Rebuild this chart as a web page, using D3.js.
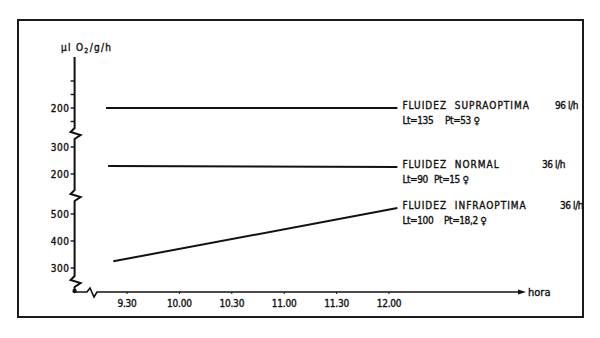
<!DOCTYPE html>
<html>
<head>
<meta charset="utf-8">
<script src="https://cdn.jsdelivr.net/npm/d3@7"></script>
<style>
  body { margin: 0; background: #fff; }
  text { font-family: "DejaVu Sans Condensed", "Liberation Sans Narrow", sans-serif; fill: #111; stroke: #111; stroke-width: 0.35px; }
</style>
</head>
<body>
<script>
// ---- data ----
const series = ["supra", "normal", "infra"];
const startHour = [9.3, 9.32, 9.37];
const endHour = [12.08, 12.08, 12.08];
const startValue = [200, 230, 325];
const endValue = [200, 226, 522];
const titles = ["FLUIDEZ  SUPRAOPTIMA", "FLUIDEZ  NORMAL", "FLUIDEZ  INFRAOPTIMA"];
const flows = ["96 l/h", "36 l/h", "36 l/h"];
const lengths = ["Lt=135", "Lt=90", "Lt=100"];
const weights = ["Pt=53", "Pt=15", "Pt=18,2"];

const xTicks = [9.5, 10, 10.5, 11, 11.5, 12];
const xTickLabels = ["9.30", "10.00", "10.30", "11.00", "11.30", "12.00"];
// y ticks per broken section (top, middle, bottom)
const yTicksTop = [200];
const yMinorTop = [300, 250, 150];
const yTicksMid = [300, 200];
const yTicksBot = [500, 400, 300];

const width = 600, height = 338;
const svg = d3.select("body").append("svg")
    .attr("width", width)
    .attr("height", height);

svg.append("rect").attr("width", width).attr("height", height).attr("fill", "#fff");

// frame
svg.append("rect")
    .attr("x", 18).attr("y", 20)
    .attr("width", 565).attr("height", 297)
    .attr("fill", "none")
    .attr("stroke", "#1a1a1a")
    .attr("stroke-width", 2);

// scales
const x = d3.scaleLinear().domain([9.5, 12]).range([127, 389]);
const yTop = d3.scaleLinear().domain([200, 300]).range([108, 81]);
const yMid = d3.scaleLinear().domain([200, 300]).range([174, 147]);
const yBot = d3.scaleLinear().domain([300, 500]).range([268, 214]);
const yScales = [yTop, yMid, yBot];

const x0 = x(9), axisY = 292, axisTop = 57, xEnd = x(13.25);

// y axis with breaks
const brk = [133, 195, 281];
let yPath = "M" + x0 + "," + axisTop;
brk.forEach(b => {
  yPath += " L" + x0 + "," + (b - 5) +
           " L" + (x0 - 4) + "," + (b - 1) +
           " L" + (x0 + 6) + "," + (b + 2) +
           " L" + x0 + "," + (b + 6);
});
yPath += " L" + x0 + "," + axisY;
svg.append("path")
    .attr("d", yPath)
    .attr("fill", "none")
    .attr("stroke", "#111")
    .attr("stroke-width", 2);

// x axis with break
const xb = 92;
svg.append("path")
    .attr("d", "M" + x0 + "," + axisY + " L" + (xb - 5) + "," + axisY +
               " L" + (xb - 2) + "," + (axisY - 4) +
               " L" + (xb + 2) + "," + (axisY + 5) +
               " L" + (xb + 5) + "," + axisY +
               " L" + xEnd + "," + axisY)
    .attr("fill", "none")
    .attr("stroke", "#111")
    .attr("stroke-width", 1.6);
svg.append("path")
    .attr("d", "M" + (xEnd + 6) + "," + axisY + " L" + (xEnd - 2) + "," + (axisY - 2.5) +
               " L" + (xEnd - 2) + "," + (axisY + 2.5) + "Z")
    .attr("fill", "#111");
svg.append("circle").attr("cx", x0).attr("cy", axisY - 1).attr("r", 2.2).attr("fill", "#111");

svg.append("text")
    .attr("x", xEnd + 8).attr("y", axisY + 4)
    .style("font-size", "11px")
    .text("hora");

// x ticks
const xg = svg.append("g");
xTicks.forEach((t, i) => {
  xg.append("line")
      .attr("x1", x(t)).attr("x2", x(t))
      .attr("y1", axisY).attr("y2", axisY + 2)
      .attr("stroke", "#111");
  xg.append("text")
      .attr("x", x(t)).attr("y", axisY + 15)
      .attr("text-anchor", "middle")
      .style("font-size", "10px")
      .style("letter-spacing", "-0.2px")
      .text(xTickLabels[i]);
});

// y ticks
const yg = svg.append("g");
function yTick(scale, v, label) {
  yg.append("line")
      .attr("x1", x0 - 4).attr("x2", x0)
      .attr("y1", scale(v)).attr("y2", scale(v))
      .attr("stroke", "#111")
      .attr("stroke-width", 1.4);
  if (label) {
    yg.append("text")
        .attr("x", x0 - 5).attr("y", scale(v) + 3.5)
        .attr("text-anchor", "end")
        .style("font-size", "10px")
        .style("letter-spacing", "0.6px")
        .text(v);
  }
}
yTicksTop.forEach(v => yTick(yTop, v, true));
yMinorTop.forEach(v => yTick(yTop, v, false));
yTicksMid.forEach(v => yTick(yMid, v, true));
yTicksBot.forEach(v => yTick(yBot, v, true));

// axis title
const ttl = svg.append("text")
    .attr("x", 61).attr("y", 51)
    .style("font-size", "10px")
    .style("letter-spacing", "1.3px");
ttl.append("tspan").text("\u03bcl O");
ttl.append("tspan").attr("dy", 2).style("font-size", "7px").text("2");
ttl.append("tspan").attr("dy", -2).text("/g/h");

// series lines and labels
const flowX = [555, 542, 560];
const ptX = [445, 434, 444];
series.forEach((s, i) => {
  const y = yScales[i];
  svg.append("line")
      .attr("x1", x(startHour[i])).attr("y1", y(startValue[i]))
      .attr("x2", x(endHour[i])).attr("y2", y(endValue[i]))
      .attr("stroke", "#111")
      .attr("stroke-width", 2);
  const ly = y(endValue[i]) + 1;
  const tx = x(endHour[i]) + 5;
  svg.append("text")
      .attr("x", tx).attr("y", ly)
      .style("font-size", "10px")
      .style("letter-spacing", "1px")
      .style("white-space", "pre")
      .text(titles[i]);
  svg.append("text")
      .attr("x", flowX[i]).attr("y", ly)
      .style("font-size", "10px")
      .style("letter-spacing", "-0.4px")
      .text(flows[i]);
  const sub = svg.append("text")
      .attr("y", ly + 15)
      .style("font-size", "10px")
      .style("letter-spacing", "-0.4px");
  sub.append("tspan").attr("x", tx).text(lengths[i]);
  sub.append("tspan").attr("x", ptX[i]).text(weights[i] + " \u2640");
});
</script>
</body>
</html>
